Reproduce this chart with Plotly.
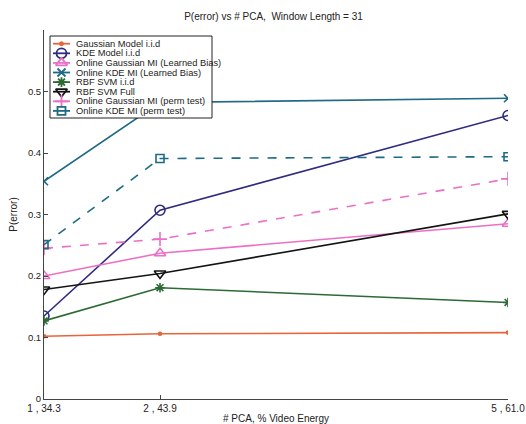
import plotly.graph_objects as go

x_pca = [1, 2, 5]
x_labels = ["1 , 34.3", "2 , 43.9", "5 , 61.0"]

series_names = [
    "Gaussian Model i.i.d",
    "KDE Model i.i.d",
    "Online Gaussian MI (Learned Bias)",
    "Online KDE MI (Learned Bias)",
    "RBF SVM i.i.d",
    "RBF SVM Full",
    "Online Gaussian MI (perm test)",
    "Online KDE MI (perm test)",
]
gaussian_iid = [0.102, 0.106, 0.108]
kde_iid = [0.135, 0.307, 0.461]
online_gauss_lb = [0.200, 0.237, 0.285]
online_kde_lb = [0.354, 0.482, 0.489]
rbf_iid = [0.127, 0.181, 0.157]
rbf_full = [0.178, 0.204, 0.301]
online_gauss_perm = [0.245, 0.260, 0.358]
online_kde_perm = [0.251, 0.391, 0.394]

series_values = [gaussian_iid, kde_iid, online_gauss_lb, online_kde_lb,
                 rbf_iid, rbf_full, online_gauss_perm, online_kde_perm]

colors = ["#e8643a", "#2f2c80", "#ec6fc6", "#1f6a85",
          "#2c6a34", "#141414", "#ec6fc6", "#1f6a85"]
symbols = ["circle", "circle-open", "triangle-up-open", "x-thin-open",
           "asterisk-open", "triangle-down-open", "cross-thin-open", "square-open"]
sizes = [3, 10, 10, 8, 8, 10, 10, 8]
leg_sizes = [3, 10, 10, 8, 8, 10, 9, 8]
dashes = ["solid", "solid", "solid", "solid", "solid", "solid", "dash", "dash"]

W, H = 526, 424
M = dict(l=44, r=18, t=30, b=25)

fig = go.Figure()
for name, vals, c, s, sz, d in zip(series_names, series_values, colors, symbols, sizes, dashes):
    fig.add_trace(go.Scatter(
        x=x_pca, y=vals, name=name, mode="lines+markers", showlegend=False,
        line=dict(color=c, width=1.6, dash=d),
        marker=dict(symbol=s, size=sz, color=c, line=dict(color=c, width=1.6)),
    ))

# --- custom compact legend (MATLAB style), drawn in a pixel-coordinate overlay axis ---
px_left, px_right = M["l"], W - M["r"]
px_top, px_bot = M["t"], H - M["b"]
box_l, box_r, box_t, box_b = 50, 212, 36, 118
row0, row_step = 43.7, 9.6
line_x0, line_x1, text_x = 53, 70, 74

fig.add_trace(go.Scatter(
    x=[box_l, box_r, box_r, box_l, box_l], y=[box_t, box_t, box_b, box_b, box_t],
    mode="lines", fill="toself", fillcolor="white",
    line=dict(color="#222", width=1), xaxis="x2", yaxis="y2",
    showlegend=False, hoverinfo="skip"))
annotations = []
for i, (name, c, s, sz, d) in enumerate(zip(series_names, colors, symbols, leg_sizes, dashes)):
    yy = row0 + i * row_step
    fig.add_trace(go.Scatter(
        x=[line_x0, line_x1], y=[yy, yy], mode="lines", xaxis="x2", yaxis="y2",
        line=dict(color=c, width=1.8),
        showlegend=False, hoverinfo="skip"))
    fig.add_trace(go.Scatter(
        x=[(line_x0 + line_x1) / 2], y=[yy], mode="markers", xaxis="x2", yaxis="y2",
        marker=dict(symbol=s, size=sz, color=c, line=dict(color=c, width=1.8)),
        showlegend=False, hoverinfo="skip"))
    annotations.append(dict(
        x=text_x, y=yy, xref="x2", yref="y2", text=name, showarrow=False,
        xanchor="left", yanchor="middle", font=dict(size=9.3, color="#222")))

fig.update_layout(
    width=W, height=H,
    margin=M,
    paper_bgcolor="white", plot_bgcolor="rgba(0,0,0,0)",
    font=dict(family="Liberation Sans, Arial, sans-serif", size=9, color="#222"),
    title=dict(text="P(error) vs # PCA,  Window Length = 31", x=0.52, xanchor="center",
               y=0.96, yanchor="middle", font=dict(size=10)),
    showlegend=False,
    annotations=annotations,
    xaxis=dict(range=[1, 5], tickvals=x_pca, ticktext=x_labels, ticks="inside",
               ticklen=4, tickcolor="#444", showline=True, linecolor="#444", linewidth=1,
               showgrid=False, zeroline=False, ticklabelstandoff=0, automargin=False,
               tickfont=dict(size=10),
               title=dict(text="# PCA, % Video Energy", standoff=3, font=dict(size=10))),
    yaxis=dict(range=[0, 0.6], tickvals=[0, 0.1, 0.2, 0.3, 0.4, 0.5],
               ticktext=["0", "0.1", "0.2", "0.3", "0.4", "0.5"], ticks="inside",
               ticklen=4, tickcolor="#444", showline=True, linecolor="#444", linewidth=1,
               showgrid=False, zeroline=False, automargin=False,
               tickfont=dict(size=9.5),
               title=dict(text="P(error)", standoff=8, font=dict(size=10))),
    xaxis2=dict(domain=[0, 1], range=[px_left, px_right], anchor="y2", visible=False,
                fixedrange=True, automargin=False),
    yaxis2=dict(domain=[0, 1], range=[px_bot, px_top], anchor="x2", visible=False,
                fixedrange=True, automargin=False),
)

fig.write_html("out.html")
